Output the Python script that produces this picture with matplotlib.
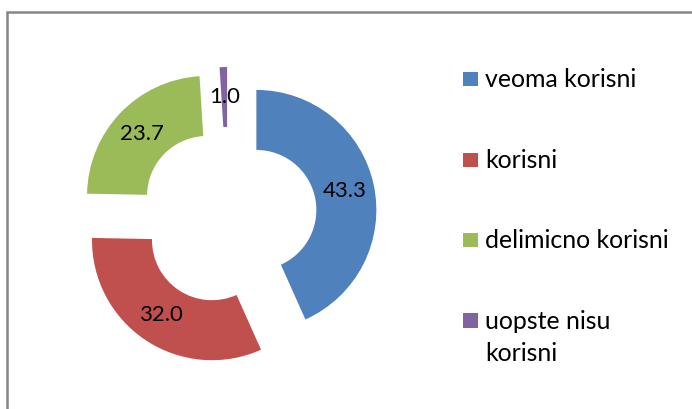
import matplotlib
matplotlib.use("Agg")
import matplotlib.pyplot as plt
from matplotlib.patches import Rectangle

categories = ["veoma korisni", "korisni", "delimicno korisni", "uopste nisu\nkorisni"]
values = [43.3, 32.0, 23.7, 1.0]
colors = ["#4F81BD", "#C0504D", "#9BBB59", "#8064A2"]

W, H = 692, 409
FONT = "Lato"
fig = plt.figure(figsize=(W / 100, H / 100), dpi=100)
fig.patch.set_facecolor("white")
ax = fig.add_axes([0, 0, 1, 1])

R_PX = 120.0          # outer radius in pixels
CX, CY = 228.0, 216.0  # pie centre in pixels (from top-left)

wedges, texts, autotexts = ax.pie(
    values, colors=colors, startangle=90, counterclock=False,
    radius=1.0, explode=[29 / R_PX] * len(values),
    autopct="%.1f", pctdistance=0.75,
    wedgeprops=dict(width=0.5, linewidth=0),
    textprops=dict(family=FONT, color="black", fontsize=17),
)
ax.set_xlim(-CX / R_PX, (W - CX) / R_PX)
ax.set_ylim(-(H - CY) / R_PX, CY / R_PX)
ax.set_aspect("equal")
ax.axis("off")

renderer = fig.canvas.get_renderer()

# scale data label font so that "43.3" is ~44 px wide
bb = autotexts[0].get_window_extent(renderer)
lab_fs = 17 * 44.0 / bb.width
for t in autotexts:
    t.set_fontsize(lab_fs)


def fx(x):
    return x / W


def fy(y):
    return 1 - y / H


# outer frame (cut by the image edges on right and bottom)
fig.add_artist(Rectangle((fx(6.5), -0.1), 1.2, fy(12.5) + 0.1,
                         transform=fig.transFigure, fill=False,
                         edgecolor="#868686", linewidth=1.8, clip_on=False))

# legend
probe = fig.text(0, 0, "veoma korisni", family=FONT, fontsize=18)
leg_fs = 18 * 151.0 / probe.get_window_extent(renderer).width
probe.remove()

row_top = [71.7, 152.7, 232.7, 313.3]
sq = 14.5
line_gap = 32.6
for top, name, col in zip(row_top, categories, colors):
    fig.add_artist(Rectangle((fx(463), fy(top + sq)), sq / W, sq / H,
                             transform=fig.transFigure, facecolor=col,
                             edgecolor="none"))
    for i, line in enumerate(name.split("\n")):
        fig.text(fx(485), fy(top + sq + 0.8 + i * line_gap), line,
                 family=FONT, fontsize=leg_fs, color="black",
                 ha="left", va="baseline")

fig.savefig("out.png", dpi=100, facecolor="white")
